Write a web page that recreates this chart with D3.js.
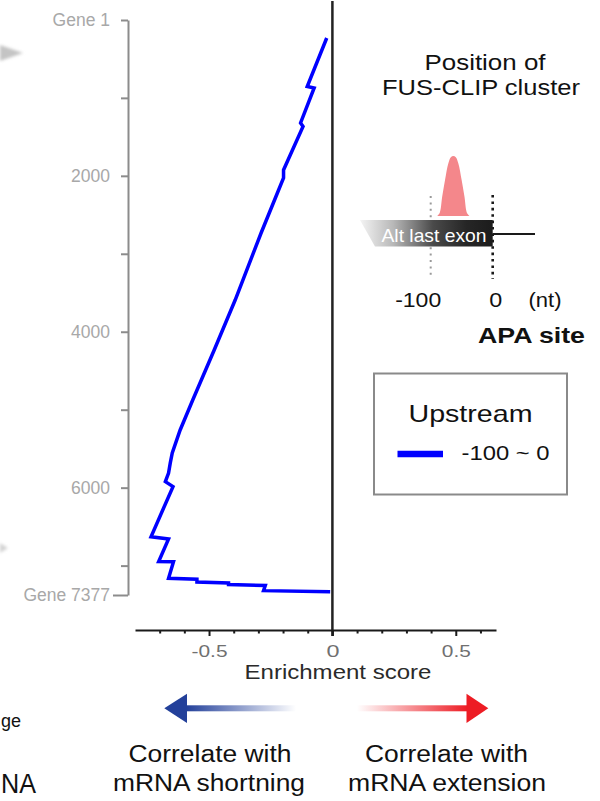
<!DOCTYPE html>
<html><head><meta charset="utf-8">
<script src="https://cdn.jsdelivr.net/npm/d3@7"></script>
<style>
html,body{margin:0;padding:0;background:#fff;}
svg{display:block;font-family:"Liberation Sans",Arial,Helvetica,sans-serif;}
</style>
</head><body>
<svg id="chart" width="600" height="801"></svg>
<script>
// ---------------- data ----------------
const geneRank   = [232, 854, 873, 1322, 1367, 1925, 2028, 2182, 2733, 3593, 4234, 4875, 5260, 5555, 5683, 5812, 5923, 5987, 6629, 6658, 6949, 6950, 7162, 7175, 7210, 7223, 7242, 7255, 7321, 7334];
const enrichment = [-0.023, -0.102, -0.074, -0.129, -0.119, -0.198, -0.198, -0.218, -0.289, -0.394, -0.479, -0.566, -0.617, -0.649, -0.657, -0.664, -0.677, -0.646, -0.735, -0.664, -0.704, -0.644, -0.664, -0.549, -0.549, -0.421, -0.421, -0.272, -0.279, -0.009];
const yTickValues = [1, 1000, 2000, 3000, 4000, 5000, 6000, 7000, 7377];
const yTickLabels = ["Gene 1", "", "2000", "", "4000", "", "6000", "", "Gene 7377"];
const xTickValues = [-0.7, -0.6, -0.5, -0.4, -0.3, -0.2, -0.1, 0, 0.1, 0.2, 0.3, 0.4, 0.5, 0.6];
const xTickLabels = {"-0.5": "-0.5", "0": "0", "0.5": "0.5"};
const legendTitle = "Upstream";
const legendLabel = "-100 ~ 0";
// inset illustration: FUS-CLIP cluster density profile (nt offset from peak, relative height)
const peakCenterNt = -63.5;
const peakOffsetNt = [-26, -22, -18, -13.4, -8, -4, 0, 4, 8, 13.4, 18, 22, 26];
const peakHeight   = [0, 0.05, 0.32, 0.6, 0.88, 0.98, 1, 0.98, 0.88, 0.6, 0.32, 0.05, 0];
const insetTicks = [-100, 0];

// ---------------- setup ----------------
const svg = d3.select("#chart");
const defs = svg.append("defs");

const x = d3.scaleLinear().domain([-0.8, 0.663]).range([135, 496]);
const y = d3.scaleLinear().domain([1, 7377]).range([20, 595]);

function txt(g, px, py, s, o) {
  o = o || {};
  const t = g.append("text")
    .attr("x", px).attr("y", py)
    .attr("text-anchor", o.anchor || "middle")
    .attr("font-size", o.size || 20)
    .attr("fill", o.fill || "#111")
    .text(s);
  if (o.weight) t.attr("font-weight", o.weight);
  if (o.len) t.attr("textLength", o.len).attr("lengthAdjust", "spacingAndGlyphs");
  return t;
}

// blur filter for the cropped neighbour-panel smudges
const blur = defs.append("filter").attr("id", "blur").attr("x", "-50%").attr("y", "-50%").attr("width", "200%").attr("height", "200%");
blur.append("feGaussianBlur").attr("stdDeviation", 1.8);
svg.append("polygon").attr("points", "0,45 23,53 0,61").attr("fill", "#c4c4c4").attr("filter", "url(#blur)");
svg.append("polygon").attr("points", "0,543 8,548 0,553").attr("fill", "#d4d4d4").attr("filter", "url(#blur)");
txt(svg, 1, 727, "ge", {anchor: "start", size: 18, fill: "#111"});
txt(svg, 1, 793, "NA", {anchor: "start", size: 27, fill: "#111", len: 35});

// ---------------- y axis ----------------
const yAxis = svg.append("g").attr("transform", "translate(128,0)")
  .call(d3.axisLeft(y).tickValues(yTickValues).tickSize(7).tickSizeOuter(0).tickPadding(11)
    .tickFormat((d, i) => yTickLabels[i]));
yAxis.select(".domain").attr("stroke", "#8c8c8c").attr("stroke-width", 2);
yAxis.selectAll(".tick line").attr("stroke", "#8c8c8c").attr("stroke-width", 2)
  .attr("x2", d => d === 7377 ? -15 : -7);
yAxis.selectAll(".tick text").attr("fill", "#a8a8a8").attr("font-size", 17.5)
  .attr("font-family", "'Liberation Sans',Arial,sans-serif")
  .attr("x", -18);

// ---------------- zero line ----------------
svg.append("line").attr("x1", x(0)).attr("x2", x(0)).attr("y1", 1).attr("y2", 636)
  .attr("stroke", "#222").attr("stroke-width", 2.5);

// ---------------- x axis ----------------
const xAxis = svg.append("g").attr("transform", "translate(0,630)")
  .call(d3.axisBottom(x).tickValues(xTickValues).tickSize(3.5).tickSizeOuter(0).tickPadding(8)
    .tickFormat(d => xTickLabels[String(+d.toFixed(1))] || ""));
xAxis.select(".domain").attr("stroke", "#1a1a1a").attr("stroke-width", 2.2);
xAxis.selectAll(".tick line").attr("stroke", "#1a1a1a").attr("stroke-width", 2)
  .attr("y2", d => Math.abs(d * 10 % 5) < 1e-6 ? 6 : 3.5);
const xLen = {"-0.5": 36, "0": 13, "0.5": 29};
xAxis.selectAll(".tick text").attr("fill", "#707070").attr("font-size", 17)
  .attr("font-family", "'Liberation Sans',Arial,sans-serif")
  .attr("y", 15)
  .each(function(d) {
    const k = String(+d.toFixed(1));
    if (xLen[k]) d3.select(this).attr("textLength", xLen[k]).attr("lengthAdjust", "spacingAndGlyphs");
  });
xAxis.selectAll(".tick text").attr("dy", "0.71em");
txt(svg, 338, 679, "Enrichment score", {size: 20, fill: "#2a2a2a", len: 187});

// ---------------- enrichment curve ----------------
const pts = geneRank.map((r, i) => ({rank: r, es: enrichment[i]}));
svg.append("path").datum(pts)
  .attr("d", d3.line().x(d => x(d.es)).y(d => y(d.rank)))
  .attr("fill", "none").attr("stroke", "#0000ff").attr("stroke-width", 3.5)
  .attr("stroke-linejoin", "miter");

// ---------------- inset illustration ----------------
txt(svg, 485, 70, "Position of", {size: 22, len: 121});
txt(svg, 481, 95, "FUS-CLIP cluster", {size: 22, len: 198});

const nt = d3.scaleLinear().domain([-100, 0]).range([430.7, 492.7]);
const ph = d3.scaleLinear().domain([0, 1]).range([216, 156]);

// dotted guide lines
svg.append("line").attr("x1", nt(-100)).attr("x2", nt(-100)).attr("y1", 196).attr("y2", 279)
  .attr("stroke", "#9a9a9a").attr("stroke-width", 2).attr("stroke-dasharray", "2,4.4");
svg.append("line").attr("x1", nt(0)).attr("x2", nt(0)).attr("y1", 195).attr("y2", 279)
  .attr("stroke", "#1a1a1a").attr("stroke-width", 2.6).attr("stroke-dasharray", "2.6,3.8");

// peak
svg.append("path").datum(peakOffsetNt.map((o, i) => ({o: o, h: peakHeight[i]})))
  .attr("d", d3.area().x(d => nt(peakCenterNt + d.o)).y0(ph(0)).y1(d => ph(d.h)).curve(d3.curveCatmullRom))
  .attr("fill", "#f4878b");

// exon (gradient block)
const eg = defs.append("linearGradient").attr("id", "exonGrad").attr("x1", "0%").attr("x2", "100%");
eg.append("stop").attr("offset", "0%").attr("stop-color", "#f4f4f4");
eg.append("stop").attr("offset", "25%").attr("stop-color", "#b8b8b8");
eg.append("stop").attr("offset", "55%").attr("stop-color", "#4a4a4a");
eg.append("stop").attr("offset", "80%").attr("stop-color", "#262626");
eg.append("stop").attr("offset", "100%").attr("stop-color", "#1c1c1c");
svg.append("polygon")
  .attr("points", [[360, 220], [nt(0), 220], [nt(0), 246.5], [375, 246.5]].map(p => p.join(",")).join(" "))
  .attr("fill", "url(#exonGrad)");
svg.append("line").attr("x1", nt(0)).attr("x2", 535).attr("y1", 234).attr("y2", 234)
  .attr("stroke", "#1a1a1a").attr("stroke-width", 2.2);
txt(svg, 381.5, 241.5, "Alt last exon", {anchor: "start", size: 18.5, fill: "#fff", len: 105});

// inset tick labels
txt(svg, nt(insetTicks[0]) - 12.5, 306.5, "-100", {size: 21, len: 46});
txt(svg, nt(insetTicks[1]) + 3, 306.5, String(insetTicks[1]), {size: 21, len: 13});
txt(svg, 545, 306.5, "(nt)", {size: 21, len: 33});
txt(svg, 531.5, 343, "APA site", {size: 22, weight: "bold", len: 107});

// ---------------- legend ----------------
svg.append("rect").attr("x", 374).attr("y", 373.5).attr("width", 193).attr("height", 121)
  .attr("fill", "none").attr("stroke", "#8a8a8a").attr("stroke-width", 2);
txt(svg, 470.5, 421.5, legendTitle, {size: 24, len: 124});
svg.append("line").attr("x1", 397.5).attr("x2", 443).attr("y1", 454).attr("y2", 454)
  .attr("stroke", "#0000ff").attr("stroke-width", 6.5);
txt(svg, 461.5, 460, legendLabel, {anchor: "start", size: 21, len: 88});

// ---------------- direction arrows ----------------
const bg = defs.append("linearGradient").attr("id", "blueGrad").attr("x1", "0%").attr("x2", "100%");
bg.append("stop").attr("offset", "0%").attr("stop-color", "#23409a");
bg.append("stop").attr("offset", "100%").attr("stop-color", "#23409a").attr("stop-opacity", 0);
const rg = defs.append("linearGradient").attr("id", "redGrad").attr("x1", "0%").attr("x2", "100%");
rg.append("stop").attr("offset", "0%").attr("stop-color", "#ed1c24").attr("stop-opacity", 0);
rg.append("stop").attr("offset", "100%").attr("stop-color", "#ed1c24");

svg.append("rect").attr("x", 186).attr("y", 705.3).attr("width", 110).attr("height", 6).attr("fill", "url(#blueGrad)");
svg.append("polygon").attr("points", "164.3,708.3 187,693.7 187,723").attr("fill", "#23409a");
svg.append("rect").attr("x", 357).attr("y", 705.3).attr("width", 110.5).attr("height", 6).attr("fill", "url(#redGrad)");
svg.append("polygon").attr("points", "488.3,708.3 466.5,693.7 466.5,723").attr("fill", "#ed1c24");

txt(svg, 210, 761.5, "Correlate with", {size: 23, len: 163});
txt(svg, 209, 791, "mRNA shortning", {size: 23, len: 192});
txt(svg, 446.5, 761.5, "Correlate with", {size: 23, len: 163});
txt(svg, 447, 791, "mRNA extension", {size: 23, len: 198});
</script>
</body></html>
